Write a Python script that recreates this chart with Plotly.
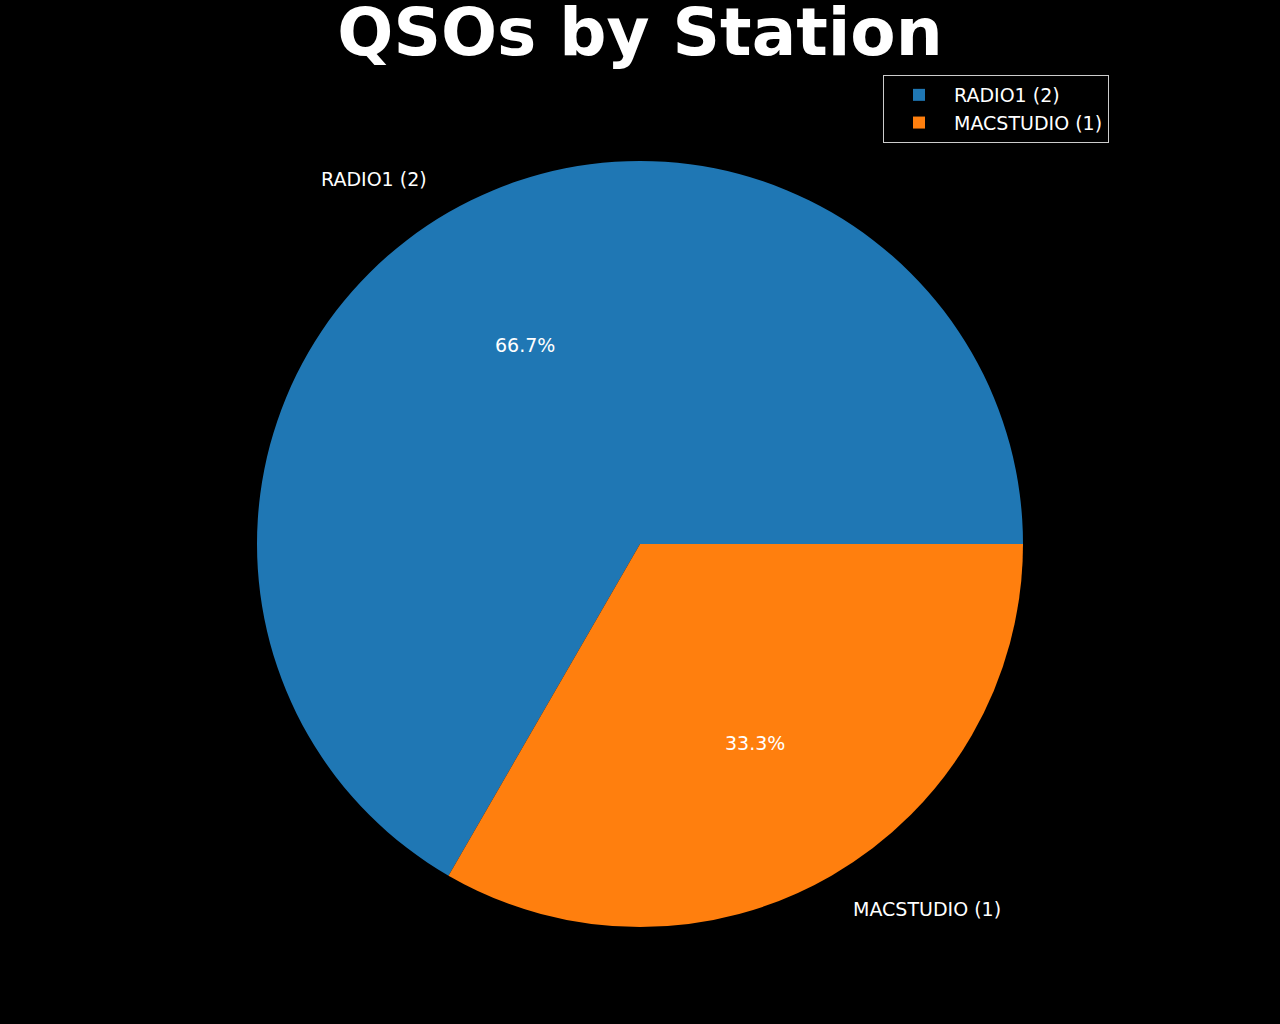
import plotly.graph_objects as go
import numpy as np

stations = ['RADIO1', 'MACSTUDIO']
qso_counts = [2, 1]
slice_colors = ['#1f77b4', '#ff7f0e']

W, H = 1280, 1024
# pie placement in pixels (centre and radius)
cx, cy, r = 640, 544, 383

labels = ['%s (%d)' % (s, c) for s, c in zip(stations, qso_counts)]
total = float(sum(qso_counts))

# plotly's counterclockwise pies measure rotation from the far edge of the
# first slice, so shift it to make the first slice start at 3 o'clock
rotation = 90 - 360.0 * qso_counts[0] / total

fig = go.Figure()
fig.add_trace(go.Pie(
    labels=labels,
    values=qso_counts,
    marker=dict(colors=slice_colors, line=dict(width=0)),
    sort=False,
    direction='counterclockwise',
    rotation=rotation,
    textinfo='none',
    hoverinfo='label+percent',
    domain=dict(x=[0, 1], y=[1 - (cy + r) / H, 1 - (cy - r) / H]),
))

# label and percent text placed like matplotlib's autopct
font = dict(family='DejaVu Sans', size=19, color='white')
start = 0.0
annotations = []
for lab, val in zip(labels, qso_counts):
    span = 360.0 * val / total
    mid = np.radians(start + span / 2)
    start += span
    lx = cx + 1.1 * r * np.cos(mid)
    ly = cy - 1.1 * r * np.sin(mid)
    annotations.append(dict(
        x=lx / W, y=1 - ly / H, xref='paper', yref='paper', text=lab,
        showarrow=False, font=font,
        xanchor='left' if np.cos(mid) >= 0 else 'right', yanchor='middle'))
    px = cx + 0.6 * r * np.cos(mid)
    py = cy - 0.6 * r * np.sin(mid)
    annotations.append(dict(
        x=px / W, y=1 - py / H, xref='paper', yref='paper',
        text='%.1f%%' % (100 * val / total),
        showarrow=False, font=font, xanchor='center', yanchor='middle'))

fig.update_layout(
    width=W, height=H,
    margin=dict(l=0, r=0, t=0, b=0),
    paper_bgcolor='black',
    plot_bgcolor='black',
    title=dict(text='<b>QSOs by Station</b>', x=0.5, xanchor='center',
               y=1 - 32 / H, yanchor='middle',
               font=dict(family='DejaVu Sans', size=66, color='white')),
    legend=dict(x=1109 / W, xanchor='right', y=1 - 75 / H, yanchor='top',
                bgcolor='black', bordercolor='#cccccc', borderwidth=1,
                font=font, traceorder='normal', itemwidth=60),
    annotations=annotations,
)

fig.write_html('out.html', config={'displayModeBar': False},
               post_script="document.body.style.margin='0';"
                           "document.body.style.background='black';")
